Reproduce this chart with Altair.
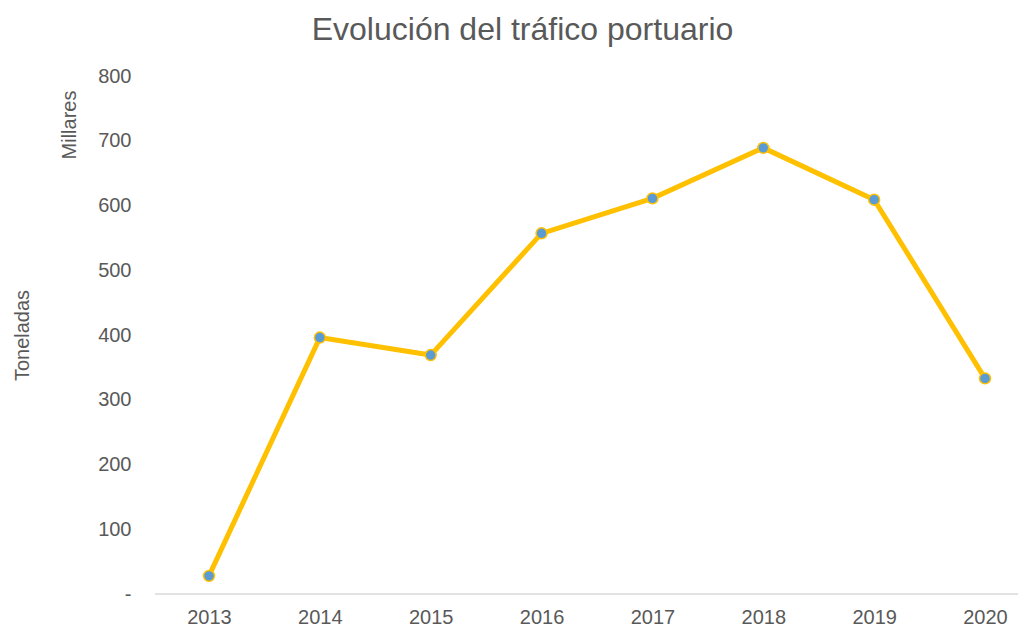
import altair as alt
import pandas as pd

years = ["2013", "2014", "2015", "2016", "2017", "2018", "2019", "2020"]
values = [28, 396, 369, 557, 611, 689, 609, 333]
y_ticks = [0, 100, 200, 300, 400, 500, 600, 700, 800]

df = pd.DataFrame({"year": years, "value": values})

FONT = "Liberation Sans"
GREY = "#595959"

x_enc = alt.X(
    "year:O",
    sort=years,
    scale=alt.Scale(type="point", range=[54, 830], padding=0),
    axis=alt.Axis(
        title=None,
        labelAngle=0,
        labelFontSize=20,
        labelColor=GREY,
        labelFont=FONT,
        labelPadding=13,
        ticks=False,
        domain=False,
        grid=False,
    ),
)
y_enc = alt.Y(
    "value:Q",
    scale=alt.Scale(domain=[0, 800], nice=False, zero=True),
    axis=alt.Axis(
        values=y_ticks,
        labelExpr="datum.value == 0 ? '-' : datum.label",
        labelFontSize=20,
        labelColor=GREY,
        labelFont=FONT,
        labelPadding=24,
        ticks=False,
        domain=False,
        grid=False,
        title="Toneladas",
        titleFont=FONT,
        titleFontSize=20,
        titleFontWeight="normal",
        titleColor=GREY,
        titleAngle=270,
        titleX=-133,
        titleY=259,
        titleAlign="center",
        titleBaseline="middle",
    ),
)

base = alt.Chart(df)
baseline = alt.Chart(pd.DataFrame({"v": [0]})).mark_rule(
    color="#D9D9D9", strokeWidth=1.5
).encode(x=alt.value(0), x2=alt.value(863), y=alt.value(518))
line = base.mark_line(color="#FFC000", strokeWidth=5).encode(x=x_enc, y=y_enc)
points = base.mark_point(
    filled=True, fill="#5B9BD5", stroke="#FFC000", strokeWidth=1.5, size=120, opacity=1
).encode(x=x_enc, y=y_enc)

unit_label = alt.Chart(pd.DataFrame({"t": ["Millares"]})).mark_text(
    angle=270, font=FONT, fontSize=20, color=GREY, align="center", baseline="middle"
).encode(text="t:N", x=alt.value(-85), y=alt.value(49))

chart = (
    alt.layer(baseline, line, points, unit_label)
    .properties(
        width=863,
        height=518,
        background="white",
        autosize=alt.AutoSizeParams(type="none"),
        padding={"left": 147, "top": 68, "right": 0, "bottom": 34},
        title=alt.TitleParams(
            "Evolución del tráfico portuario",
            font=FONT,
            fontSize=32,
            fontWeight="normal",
            color=GREY,
            anchor="middle",
            frame="group",
            dx=-64,
            offset=19,
        ),
    )
    .configure_view(stroke=None, strokeWidth=0)
)

chart.save("out.html", embed_options={"renderer": "svg", "actions": False})
